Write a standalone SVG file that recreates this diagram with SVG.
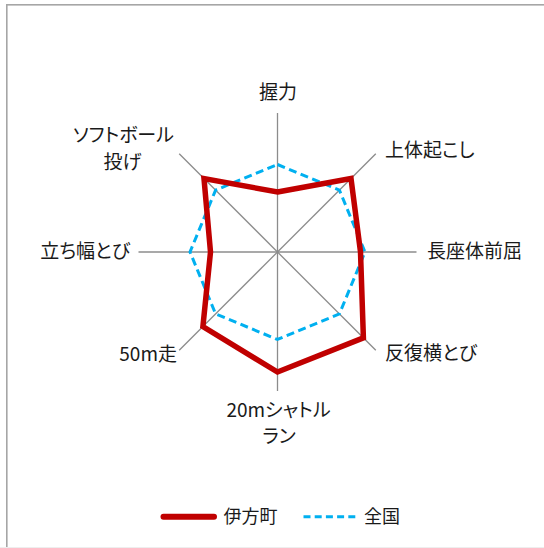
<svg xmlns="http://www.w3.org/2000/svg" width="544" height="548" viewBox="0 0 544 548">
  <style>
    .lbl { font-family: "Noto Sans CJK JP", "Noto Sans", "Liberation Sans", sans-serif; font-size: 19px; fill: #1a1a1a; }
    .kana { font-feature-settings: "palt" 1; }
    .leg { font-family: "Noto Sans CJK JP", "Noto Sans", "Liberation Sans", sans-serif; font-size: 18px; fill: #1a1a1a; }
    .axis { stroke: #8c8c8c; stroke-width: 1.3; fill: none; }
    .town { stroke: #C00000; stroke-width: 5.5; fill: none; stroke-linejoin: miter; }
    .nat { stroke: #00B0F0; stroke-width: 3; fill: none; stroke-dasharray: 8 4.5; }
  </style>
  <rect x="0" y="0" width="544" height="548" fill="#ffffff"/>
  <rect x="6.8" y="4.8" width="560" height="560" fill="none" stroke="#a6a6a6" stroke-width="1.6"/>
  <line x1="0" y1="547.5" x2="544" y2="547.5" stroke="#eeeeee" stroke-width="1"/>

  <g id="connectors">
    <g id="axes">
      <line class="axis" x1="277.5" y1="252" x2="277.5" y2="113"/>
      <line class="axis" x1="277.5" y1="252" x2="375.8" y2="153.7"/>
      <line class="axis" x1="277.5" y1="252" x2="416.5" y2="252"/>
      <line class="axis" x1="277.5" y1="252" x2="375.8" y2="350.3"/>
      <line class="axis" x1="277.5" y1="252" x2="277.5" y2="391"/>
      <line class="axis" x1="277.5" y1="252" x2="179.2" y2="350.3"/>
      <line class="axis" x1="277.5" y1="252" x2="138.5" y2="252"/>
      <line class="axis" x1="277.5" y1="252" x2="179.2" y2="153.7"/>
    </g>
    <polygon id="series-national" class="nat" points="277.5,164.5 339.4,190.1 365,252 339.4,313.9 277.5,339.5 215.6,313.9 190,252 215.6,190.1"/>
    <polygon id="series-town" class="town" points="277.5,192 351,178.5 360.5,252 363.4,337.9 277.5,372 202.9,326.6 210.5,252 204,178.5"/>
  </g>

  <g id="label-grip"><text class="lbl" x="278" y="99" text-anchor="middle">握力</text></g>
  <g id="label-situp"><text class="lbl kana" x="385" y="157">上体起こし</text></g>
  <g id="label-sitreach"><text class="lbl" x="427" y="258">長座体前屈</text></g>
  <g id="label-sidestep"><text class="lbl kana" x="385" y="360">反復横とび</text></g>
  <g id="label-shuttle">
    <text class="lbl kana" x="278.5" y="417" text-anchor="middle">20mシャトル</text>
    <text class="lbl kana" x="279" y="443" text-anchor="middle">ラン</text>
  </g>
  <g id="label-50m"><text class="lbl" x="177" y="361" text-anchor="end">50m走</text></g>
  <g id="label-jump"><text class="lbl kana" x="130" y="258" text-anchor="end">立ち幅とび</text></g>
  <g id="label-softball">
    <text class="lbl kana" x="123.5" y="142" text-anchor="middle">ソフトボール</text>
    <text class="lbl kana" x="122.5" y="168.5" text-anchor="middle">投げ</text>
  </g>

  <g id="legend">
    <line x1="163.5" y1="516.7" x2="214" y2="516.7" stroke="#C00000" stroke-width="6" stroke-linecap="round"/>
    <text class="leg" x="223.5" y="523">伊方町</text>
    <line x1="303.5" y1="516.7" x2="357" y2="516.7" stroke="#00B0F0" stroke-width="3" stroke-dasharray="7 4.2"/>
    <text class="leg" x="364" y="523">全国</text>
  </g>
</svg>
